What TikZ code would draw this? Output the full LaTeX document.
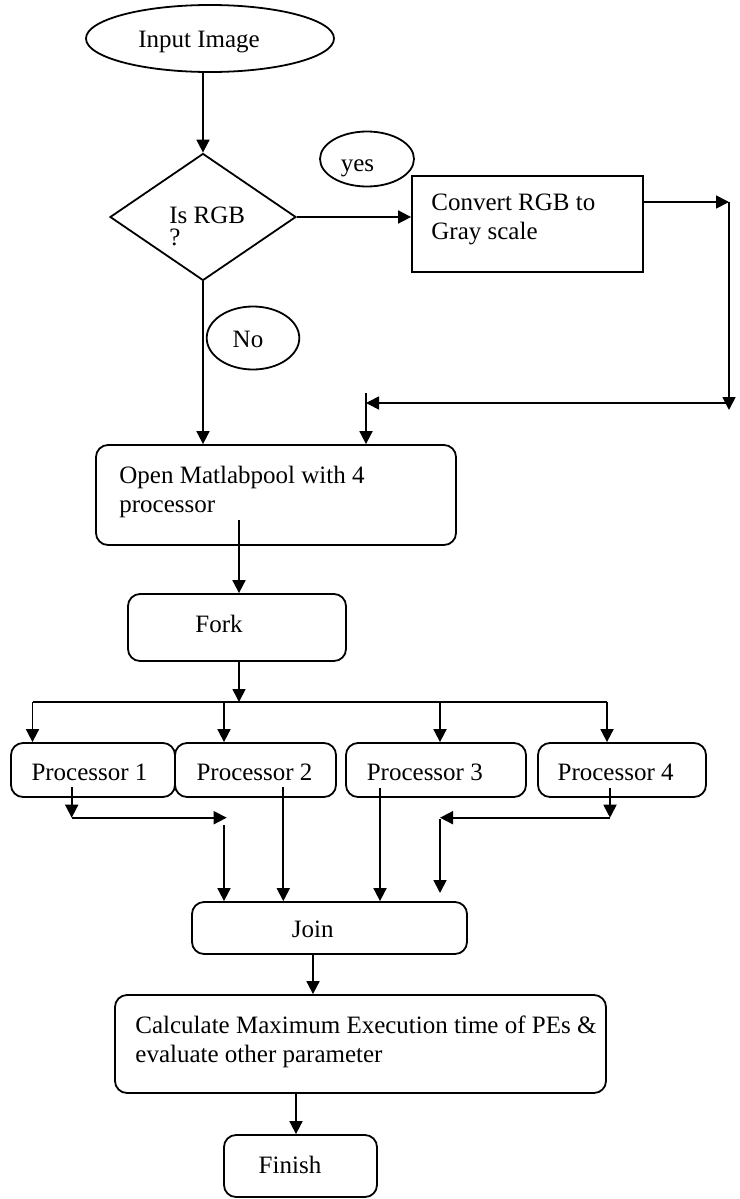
\documentclass[tikz,border=0pt]{standalone}
\usepackage{fontspec}
\setmainfont{Liberation Serif}
\usetikzlibrary{arrows.meta,shapes.geometric}
\begin{document}
\begin{tikzpicture}[x=0.5pt,y=-0.5pt,
  every node/.style={font=\fontsize{12.5}{14.5}\selectfont, inner sep=0pt},
  ln/.style={line width=0.9pt},
  arr/.style={line width=0.9pt,-{Triangle[length=6.5pt,width=6.5pt]}},
  rbox/.style={draw, line width=0.9pt, rounded corners=6pt, rectangle},
  sbox/.style={draw, line width=0.9pt, rectangle},
  oval/.style={draw, line width=0.9pt, ellipse},
  txt/.style={anchor=base},
  ltxt/.style={anchor=base west, align=left}]
\useasboundingbox (0,0) rectangle (739,1199);

% nodes
\node[oval, minimum width=124pt, minimum height=33.5pt] (in) at (210,38.5) {};
\node[txt] (intxt) at (199,47) {Input Image};

\node[draw, line width=0.9pt, diamond, minimum width=93pt, minimum height=63.5pt] (dec) at (203,217) {};
\node[ltxt] (dectxt) at (169,245) {Is RGB\\[-3.5pt]?};

\node[oval, minimum width=47pt, minimum height=27.5pt] (yes) at (367,159) {};
\node[txt] (yestxt) at (357.5,171) {yes};

\node[sbox, minimum width=115.5pt, minimum height=48pt] (conv) at (527.5,224) {};
\node[ltxt] (convtxt) at (431,239) {Convert RGB to\\Gray scale};

\node[oval, minimum width=46.3pt, minimum height=31.5pt] (no) at (253,338) {};
\node[txt] (notxt) at (248,347) {No};

\node[rbox, minimum width=180pt, minimum height=50pt] (open) at (276,495) {};
\node[ltxt] (opentxt) at (119,512) {Open Matlabpool with 4\\processor};

\node[rbox, minimum width=109pt, minimum height=33.5pt] (fork) at (237,627.5) {};
\node[txt] (forktxt) at (219,632) {Fork};

\node[rbox, minimum width=82pt, minimum height=27pt] (p1) at (93,770) {};
\node[txt] (p1txt) at (89.5,780) {Processor 1};
\node[rbox, minimum width=80.5pt, minimum height=27pt] (p2) at (255.5,770) {};
\node[txt] (p2txt) at (254.5,780) {Processor 2};
\node[rbox, minimum width=90pt, minimum height=27pt] (p3) at (436,770) {};
\node[txt] (p3txt) at (424.8,780) {Processor 3};
\node[rbox, minimum width=84pt, minimum height=27pt] (p4) at (622,770) {};
\node[txt] (p4txt) at (615.6,780) {Processor 4};

\node[rbox, minimum width=137.5pt, minimum height=26pt] (join) at (329.5,928) {};
\node[txt] (jointxt) at (312.7,937) {Join};

\node[rbox, minimum width=245.5pt, minimum height=49pt] (calc) at (360.5,1044) {};
\node[ltxt] (calctxt) at (135,1062) {Calculate Maximum Execution time of PEs \&\\evaluate other parameter};

\node[rbox, minimum width=76.5pt, minimum height=31pt] (fin) at (300.5,1166) {};
\node[txt] (fintxt) at (290,1173) {Finish};

% coordinates
\coordinate (cr) at (729,202);
\coordinate (cb) at (729,410);
\coordinate (hr) at (729,403);
\coordinate (hl) at (366,403);
\coordinate (ht) at (366,393);
\coordinate (os) at (239,520);
\coordinate (fj) at (239,702);
\coordinate (d1) at (32.5,702);
\coordinate (d2) at (224,702);
\coordinate (d3) at (440,702);
\coordinate (d4) at (607,702);
\coordinate (p1o) at (71.7,787);
\coordinate (p1h) at (71.7,817.7);
\coordinate (p1r) at (226.7,817.7);
\coordinate (j1) at (224,825);
\coordinate (p2o) at (283.3,787);
\coordinate (p3o) at (380,788);
\coordinate (p4o) at (610,788);
\coordinate (p4h) at (610,817.7);
\coordinate (p4l) at (440,817.7);
\coordinate (j4) at (440,819);
\coordinate (j4e) at (440,893);
\coordinate (jo) at (313,954);
\coordinate (co) at (296,1093);

% connectors
\draw[arr] (dec.north |- in.south) -- (dec.north);
\draw[arr] (dec.east) -- (dec.east -| conv.west);
\draw[arr] (cr -| conv.east) -- (cr);
\draw[arr] (cr) -- (cb);
\draw[arr] (hr) -- (hl);
\draw[arr] (ht) -- (ht |- open.north);
\draw[arr] (dec.south) -- (dec.south |- open.north);
\draw[arr] (os) -- (os |- fork.north);
\draw[arr] (os |- fork.south) -- (fj);
\draw[ln] (d1) -- (d4);
\draw[arr] (d1) -- (d1 |- p1.north);
\draw[arr] (d2) -- (d2 |- p2.north);
\draw[arr] (d3) -- (d3 |- p3.north);
\draw[arr] (d4) -- (d4 |- p4.north);
\draw[arr] (p1o) -- (p1h);
\draw[arr] (p1h) -- (p1r);
\draw[arr] (j1) -- (j1 |- join.north);
\draw[arr] (p2o) -- (p2o |- join.north);
\draw[arr] (p3o) -- (p3o |- join.north);
\draw[arr] (p4o) -- (p4h);
\draw[arr] (p4h) -- (p4l);
\draw[arr] (j4) -- (j4e);
\draw[arr] (jo) -- (jo |- calc.north);
\draw[arr] (co) -- (co |- fin.north);
\end{tikzpicture}
\end{document}
